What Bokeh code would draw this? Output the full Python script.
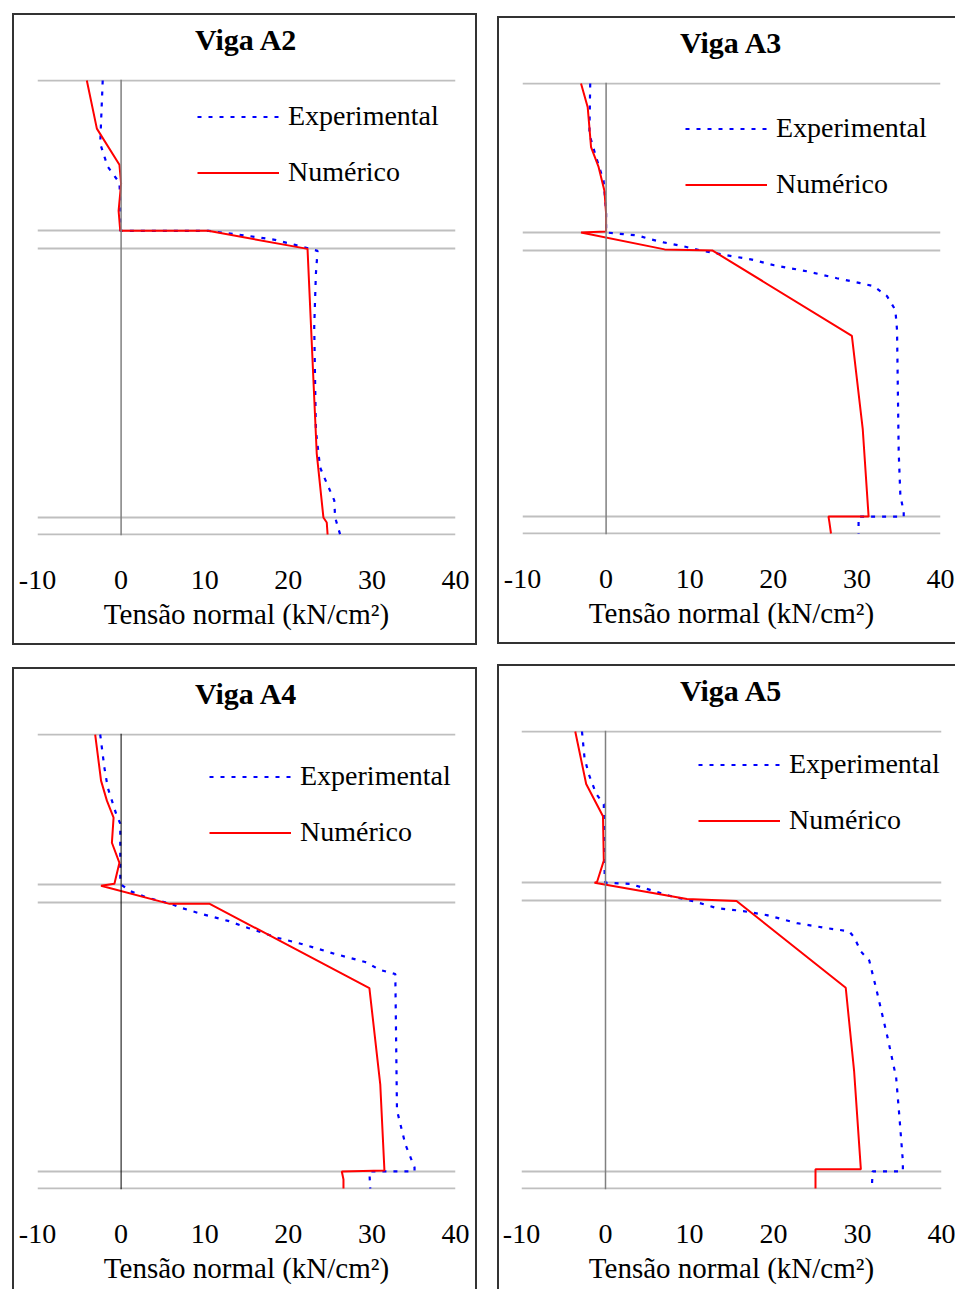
from bokeh.plotting import figure
from bokeh.layouts import row, column
from bokeh.models import Range1d, FixedTicker, Span, Legend, LegendItem, Title
from bokeh.embed import file_html
from bokeh.resources import INLINE

# ---------------- data ----------------
tick_values = [-10, 0, 10, 20, 30, 40]
tick_labels = ["-10", "0", "10", "20", "30", "40"]
section_levels = [0.0, 1.7, 28.5, 30.3, 45.3]
x_title = "Tensão normal (kN/cm²)"
series_names = ["Experimental", "Numérico"]
panel_titles = ["Viga A2", "Viga A3", "Viga A4", "Viga A5"]

a2_exp_x = [-2.2, -2.5, -1.6, -0.2, -0.1, -0.1, 10.5, 16.0, 18.4, 20.8, 22.6, 23.5, 23.3, 23.1, 23.3, 23.8, 24.3, 25.5, 25.6, 26.2]
a2_exp_y = [45.3, 39.0, 36.7, 35.1, 33.3, 30.3, 30.3, 29.7, 29.4, 28.9, 28.5, 28.3, 26.0, 20.7, 10.4, 6.7, 5.7, 3.4, 1.7, 0.0]
a2_num_x = [-4.1, -2.9, -0.2, 0.0, -0.3, -0.1, 10.4, 22.3, 23.4, 24.2, 24.6, 24.7]
a2_num_y = [45.3, 40.5, 36.9, 35.0, 32.3, 30.3, 30.3, 28.5, 8.1, 1.7, 1.2, 0.0]

a3_exp_x = [-1.9, -2.0, -1.2, -0.3, 0.0, 0.0, 3.8, 5.4, 6.9, 9.3, 11.3, 14.5, 17.3, 20.1, 24.0, 27.6, 30.4, 32.0, 33.6, 34.6, 34.8, 35.0, 35.2, 35.6, 35.6, 30.2, 30.2]
a3_exp_y = [45.3, 40.2, 37.9, 35.5, 32.5, 30.3, 30.0, 29.6, 29.3, 28.9, 28.5, 28.0, 27.6, 27.0, 26.4, 25.7, 25.2, 24.9, 23.9, 22.5, 20.5, 8.2, 3.8, 2.2, 1.7, 1.7, 0.0]
a3_num_x = [-3.0, -2.2, -1.8, -0.9, -0.2, 0.0, 0.0, -3.0, 7.0, 12.7, 29.4, 30.7, 31.4, 26.6, 26.7, 26.9]
a3_num_y = [45.3, 42.9, 38.9, 36.9, 34.5, 32.2, 30.4, 30.3, 28.6, 28.5, 19.9, 10.5, 1.7, 1.7, 1.2, 0.0]

a4_exp_x = [-2.5, -2.0, -1.6, -0.6, -0.1, -0.1, 1.0, 3.2, 6.0, 7.2, 9.6, 12.8, 15.2, 18.8, 21.6, 25.6, 29.2, 31.0, 32.8, 33.0, 34.0, 35.1, 35.1, 29.7, 29.8]
a4_exp_y = [45.3, 42.0, 40.0, 37.4, 36.4, 30.4, 29.7, 29.0, 28.4, 28.0, 27.4, 26.7, 26.0, 25.0, 24.4, 23.4, 22.6, 21.8, 21.4, 7.8, 4.4, 2.1, 1.7, 1.7, 0.0]
a4_num_x = [-3.1, -2.4, -1.7, -0.9, -1.1, -0.2, -0.8, -2.4, 5.8, 10.6, 29.7, 31.0, 31.5, 26.4, 26.6, 26.6]
a4_num_y = [45.3, 40.7, 38.7, 37.0, 34.5, 32.5, 30.4, 30.2, 28.4, 28.4, 20.0, 10.4, 1.8, 1.7, 0.9, 0.0]

a5_exp_x = [-2.8, -2.5, -2.0, -1.1, -0.2, -0.1, 0.0, 2.9, 5.3, 7.7, 10.8, 13.2, 16.4, 19.2, 22.8, 26.4, 29.0, 29.6, 30.4, 31.4, 32.2, 33.6, 34.6, 35.0, 35.4, 35.4, 31.8, 31.7]
a5_exp_y = [45.3, 42.7, 41.1, 39.1, 38.1, 31.1, 30.3, 30.2, 29.6, 29.0, 28.4, 27.8, 27.5, 27.1, 26.3, 25.8, 25.5, 24.9, 23.5, 22.6, 19.9, 14.9, 11.0, 7.0, 2.7, 1.7, 1.7, 0.0]
a5_num_x = [-3.6, -2.3, -0.3, -0.2, -1.0, -1.3, 9.7, 15.6, 28.6, 29.6, 30.4, 25.0, 25.0]
a5_num_y = [45.3, 40.1, 36.9, 32.5, 30.4, 30.3, 28.7, 28.5, 19.9, 11.6, 1.9, 1.9, 0.0]

# ---------------- styling ----------------
FONT = "Liberation Serif"
EDGE = {
    "left": "inset 2px 0 0 0 #333333",
    "right": "inset -2px 0 0 0 #333333",
    "top": "inset 0 2px 0 0 #333333",
    "bottom": "inset 0 -2px 0 0 #333333",
}


def make_panel(title, exp_x, exp_y, num_x, num_y, width, height, b_left, b_right,
               b_top, frame_h, legend_loc, zero_color, zero_width, sides, margin):
    b_bottom = height - b_top - frame_h
    p = figure(width=width, height=height,
               x_range=Range1d(-10, 40), y_range=Range1d(-0.1, 45.4),
               output_backend="svg", toolbar_location=None,
               min_border_left=b_left, min_border_right=b_right,
               min_border_top=b_top, min_border_bottom=b_bottom)
    p.title.text = title
    p.title.text_font = FONT
    p.title.text_font_size = "30px"
    p.title.text_font_style = "bold"
    p.title.align = "center"
    p.title.text_color = "black"
    p.title.standoff = 4
    # empty spacer between the title and the frame
    p.add_layout(Title(text=" ", text_font_size="1px", standoff=19), "above")

    p.outline_line_color = None
    p.background_fill_alpha = 0
    p.border_fill_alpha = 0

    ax = p.xaxis[0]
    ax.ticker = FixedTicker(ticks=tick_values)
    ax.major_label_overrides = dict(zip(tick_values, tick_labels))
    ax.axis_line_color = None
    ax.major_tick_line_color = None
    ax.minor_tick_line_color = None
    ax.major_tick_out = 0
    ax.major_tick_in = 0
    ax.major_label_standoff = 35
    ax.major_label_text_font = FONT
    ax.major_label_text_font_size = "28px"
    ax.major_label_text_color = "black"
    ax.axis_label = x_title
    ax.axis_label_text_font = FONT
    ax.axis_label_text_font_size = "29px"
    ax.axis_label_text_font_style = "normal"
    ax.axis_label_text_color = "black"
    ax.axis_label_standoff = 6

    p.yaxis.visible = False
    p.yaxis.ticker = FixedTicker(ticks=section_levels)
    p.xgrid.visible = False
    p.ygrid.ticker = FixedTicker(ticks=section_levels)
    p.ygrid.grid_line_color = "#bfbfbf"
    p.ygrid.grid_line_width = 2

    p.add_layout(Span(location=0, dimension="height", line_color=zero_color,
                      line_width=zero_width))

    r_exp = p.line(exp_x, exp_y, line_color="#0000ff", line_width=2.2,
                   line_dash="4 7")
    r_num = p.line(num_x, num_y, line_color="#ff0000", line_width=2)

    legend = Legend(items=[LegendItem(label=series_names[0], renderers=[r_exp]),
                           LegendItem(label=series_names[1], renderers=[r_num])],
                    location=legend_loc)
    legend.border_line_color = None
    legend.background_fill_alpha = 0
    legend.padding = 0
    legend.margin = 0
    legend.spacing = 24
    legend.glyph_width = 82
    legend.glyph_height = 31
    legend.label_height = 31
    legend.label_standoff = 9
    legend.label_text_font = FONT
    legend.label_text_font_size = "28px"
    legend.label_text_color = "black"
    p.add_layout(legend)

    p.styles = {"background-color": "white",
                "box-shadow": ", ".join(EDGE[s] for s in sides)}
    p.margin = margin
    return p


p1 = make_panel(panel_titles[0], a2_exp_x, a2_exp_y, a2_num_x, a2_num_y,
                465, 632, 25, 22, 66, 456, (160, 347), "#808080", 1.5,
                ["left", "right", "top", "bottom"], (13, 0, 0, 12))
p2 = make_panel(panel_titles[1], a3_exp_x, a3_exp_y, a3_num_x, a3_num_y,
                458, 628, 25, 15, 65, 455, (163, 334), "#808080", 1.5,
                ["left", "top", "bottom"], (16, 0, 0, 20))
p3 = make_panel(panel_titles[2], a4_exp_x, a4_exp_y, a4_num_x, a4_num_y,
                465, 622, 25, 22, 66, 456, (172, 341), "#000000", 1,
                ["left", "right", "top"], (22, 0, 0, 12))
p4 = make_panel(panel_titles[3], a5_exp_x, a5_exp_y, a5_num_x, a5_num_y,
                458, 625, 24, 14, 66, 459, (177, 353), "#808080", 1.5,
                ["left", "top"], (19, 0, 0, 20))

layout = column(row(p1, p2), row(p3, p4))

with open("out.html", "w") as f:
    f.write(file_html(layout, INLINE))
